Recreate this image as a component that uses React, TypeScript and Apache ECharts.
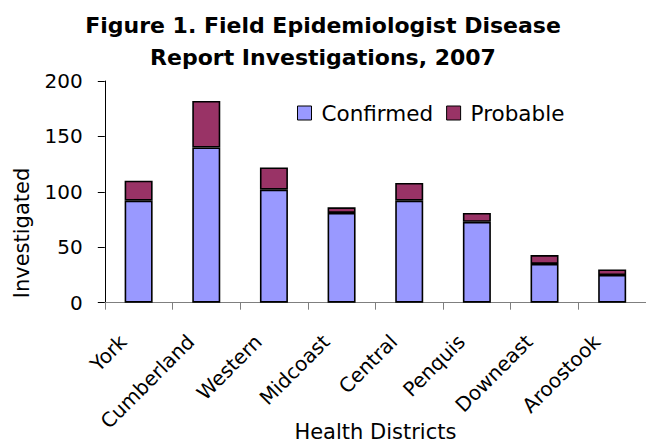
import React, { useEffect, useRef } from "react";
import * as echarts from "echarts";

const districts = ["York", "Cumberland", "Western", "Midcoast", "Central", "Penquis", "Downeast", "Aroostook"];
const confirmed = [92, 140, 102, 81, 92, 73, 35, 25];
const probable = [18, 42, 20, 5, 16, 8, 8, 5];
const yTicks = { min: 0, max: 200, interval: 50 };
const titleLines = ["Figure 1. Field Epidemiologist Disease", "Report Investigations, 2007"];

const FONT = "DejaVu Sans";

export default function App() {
  const ref = useRef<HTMLDivElement>(null);
  useEffect(() => {
    if (!ref.current) return;
    const chart = echarts.init(ref.current, null, { renderer: "svg" });
    const barStyle = (color: string) => ({ color, borderColor: "#000", borderWidth: 1.6 });
    chart.setOption({
      animation: false,
      backgroundColor: "#fff",
      textStyle: { fontFamily: FONT },
      title: {
        text: titleLines.join("\n"),
        left: "center",
        top: 4,
        textStyle: { fontFamily: FONT, fontWeight: "bold", fontSize: 22, lineHeight: 32, color: "#000" },
      },
      legend: {
        left: 292,
        top: 97,
        itemWidth: 14,
        itemHeight: 14,
        itemGap: 13,
        icon: "rect",
        itemStyle: { borderColor: "#000", borderWidth: 1 },
        textStyle: { fontFamily: FONT, fontSize: 21.5, color: "#000", padding: [0, 0, 0, 5] },
        data: ["Confirmed", "Probable"],
      },
      grid: { left: 104.8, right: 0, top: 81, bottom: 143.3, containLabel: false, outerBoundsMode: "none" },
      xAxis: {
        type: "category",
        data: districts,
        name: "Health Districts",
        nameLocation: "middle",
        nameGap: 119,
        nameMoveOverlap: false,
        nameTextStyle: { fontFamily: FONT, fontSize: 21, color: "#000" },
        axisLine: { lineStyle: { color: "#7f7f7f", width: 1 } },
        axisTick: { show: true, length: 7, lineStyle: { color: "#7f7f7f" } },
        axisLabel: {
          rotate: 45,
          margin: 20,
          padding: [0, 22, 0, 0],
          fontFamily: FONT,
          fontSize: 20,
          color: "#000",
          interval: 0,
        },
      },
      yAxis: {
        type: "value",
        min: yTicks.min,
        max: yTicks.max,
        interval: yTicks.interval,
        axisLine: { show: true, lineStyle: { color: "#000", width: 1 } },
        axisTick: { show: true, length: 7, lineStyle: { color: "#000" } },
        splitLine: { show: false },
        axisLabel: { margin: 22, fontFamily: FONT, fontSize: 20, color: "#000" },
      },
      graphic: [
        {
          type: "text",
          x: 22,
          y: 233,
          rotation: Math.PI / 2,
          style: {
            text: "Investigated",
            fontFamily: FONT,
            fontSize: 21,
            fill: "#000",
            align: "center",
            verticalAlign: "middle",
          },
        },
      ],
      series: [
        {
          name: "Confirmed",
          type: "bar",
          stack: "total",
          barWidth: 28,
          data: confirmed,
          itemStyle: barStyle("#9999FF"),
        },
        {
          name: "Probable",
          type: "bar",
          stack: "total",
          barWidth: 28,
          data: probable,
          itemStyle: barStyle("#993366"),
        },
      ],
    });
    return () => chart.dispose();
  }, []);
  return <div ref={ref} style={{ position: "absolute", left: 0, top: 0, width: 646, height: 446 }} />;
}
